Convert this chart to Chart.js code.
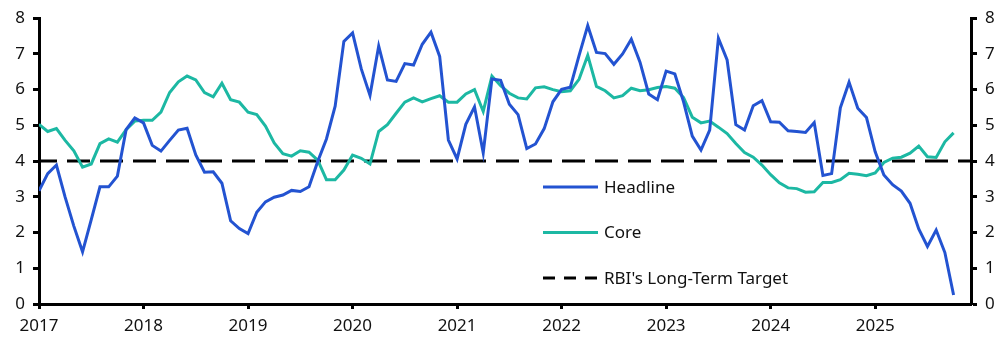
<!DOCTYPE html>
<html>
<head>
<meta charset="utf-8">
<script src="https://cdn.jsdelivr.net/npm/chart.js@4"></script>
<style>
  html, body { margin: 0; padding: 0; background: #fff; }
  #wrap { width: 1005px; height: 342px; position: relative; }
</style>
</head>
<body>
<div id="wrap"><canvas id="chart"></canvas></div>
<script>
// monthly, Jan 2017 .. Oct 2025 (% y/y)
const years = ['2017', '2018', '2019', '2020', '2021', '2022', '2023', '2024', '2025'];
const yTicks = [0, 1, 2, 3, 4, 5, 6, 7, 8];

const headline = [
  3.17, 3.65, 3.89, 2.99, 2.18, 1.46, 2.36, 3.28, 3.28, 3.58, 4.88, 5.21,
  5.07, 4.44, 4.28, 4.58, 4.87, 4.92, 4.17, 3.69, 3.70, 3.38, 2.33, 2.11,
  1.97, 2.57, 2.86, 2.99, 3.05, 3.18, 3.15, 3.28, 3.99, 4.62, 5.54, 7.35,
  7.59, 6.58, 5.84, 7.22, 6.27, 6.23, 6.73, 6.69, 7.27, 7.61, 6.93, 4.59,
  4.06, 5.03, 5.52, 4.23, 6.30, 6.26, 5.59, 5.30, 4.35, 4.48, 4.91, 5.66,
  6.01, 6.07, 6.95, 7.79, 7.04, 7.01, 6.71, 7.00, 7.41, 6.77, 5.88, 5.72,
  6.52, 6.44, 5.66, 4.70, 4.31, 4.87, 7.44, 6.83, 5.02, 4.87, 5.55, 5.69,
  5.10, 5.09, 4.85, 4.83, 4.80, 5.08, 3.60, 3.65, 5.49, 6.21, 5.48, 5.22,
  4.26, 3.61, 3.34, 3.16, 2.82, 2.10, 1.61, 2.07, 1.44, 0.25
];

const core = [
  5.03, 4.83, 4.91, 4.58, 4.29, 3.83, 3.92, 4.49, 4.62, 4.53, 4.88, 5.12,
  5.14, 5.14, 5.37, 5.92, 6.22, 6.38, 6.27, 5.92, 5.80, 6.18, 5.72, 5.65,
  5.37, 5.30, 4.98, 4.51, 4.21, 4.14, 4.29, 4.25, 4.03, 3.48, 3.48, 3.75,
  4.17, 4.08, 3.92, 4.83, 5.02, 5.34, 5.65, 5.77, 5.66, 5.75, 5.83, 5.65,
  5.65, 5.88, 6.00, 5.39, 6.38, 6.11, 5.90, 5.77, 5.74, 6.05, 6.08, 6.00,
  5.94, 5.97, 6.29, 6.96, 6.09, 5.97, 5.77, 5.83, 6.04, 5.97, 6.00, 6.06,
  6.09, 6.04, 5.78, 5.23, 5.07, 5.12, 4.95, 4.77, 4.49, 4.24, 4.11, 3.89,
  3.62, 3.39, 3.25, 3.23, 3.13, 3.14, 3.40, 3.40, 3.48, 3.66, 3.63, 3.59,
  3.67, 3.96, 4.08, 4.11, 4.22, 4.42, 4.12, 4.10, 4.54, 4.79
];

const target = 4;
const lastMonth = 107; // axis runs to Dec 2025

const BLUE = '#2353d1';
const TEAL = '#1cb8a3';
const FONT = '"Noto Sans", "Open Sans", sans-serif';

const toPoints = (arr) => arr.map((v, i) => ({ x: i, y: v }));

const legendItems = [
  { label: 'Headline', color: BLUE, dash: [] },
  { label: 'Core', color: TEAL, dash: [] },
  { label: "RBI's Long-Term Target", color: '#000', dash: [12, 9] },
];

const insideLegend = {
  id: 'insideLegend',
  afterDraw(chart) {
    const ctx = chart.ctx;
    ctx.save();
    ctx.font = '17px ' + FONT;
    ctx.textBaseline = 'middle';
    legendItems.forEach((it, i) => {
      const y = 187 + i * 45.5;
      ctx.beginPath();
      ctx.strokeStyle = it.color;
      ctx.lineWidth = 3;
      ctx.setLineDash(it.dash);
      ctx.moveTo(543, y);
      ctx.lineTo(598, y);
      ctx.stroke();
      ctx.setLineDash([]);
      ctx.fillStyle = '#111';
      ctx.fillText(it.label, 604, y + 1);
    });
    ctx.restore();
  }
};

const yAxis = (position, width) => ({
  type: 'linear',
  position: position,
  min: 0,
  max: 8,
  afterBuildTicks: (s) => { s.ticks = yTicks.map((v) => ({ value: v })); },
  afterFit: (s) => { s.width = width; },
  border: { display: true, color: '#000', width: 3 },
  grid: { display: true, drawOnChartArea: false, drawTicks: true, tickLength: 6, tickWidth: 3, tickColor: '#000' },
  ticks: { color: '#111', font: { family: FONT, size: 17 }, padding: 8 },
});

new Chart(document.getElementById('chart'), {
  type: 'line',
  data: {
    datasets: [
      {
        label: 'Headline',
        data: toPoints(headline),
        borderColor: BLUE,
        borderWidth: 3,
        pointRadius: 0,
        tension: 0,
        order: 1,
      },
      {
        label: 'Core',
        data: toPoints(core),
        borderColor: TEAL,
        borderWidth: 3,
        pointRadius: 0,
        tension: 0,
        order: 2,
      },
      {
        label: "RBI's Long-Term Target",
        data: [{ x: 0, y: target }, { x: lastMonth, y: target }],
        borderColor: '#000',
        borderWidth: 3,
        borderDash: [23, 10],
        borderDashOffset: 5,
        pointRadius: 0,
        order: 3,
      },
    ],
  },
  options: {
    responsive: true,
    maintainAspectRatio: false,
    animation: false,
    layout: { padding: { top: 15, left: 0, right: 0, bottom: 0 } },
    plugins: { legend: { display: false }, tooltip: { enabled: false } },
    scales: {
      x: {
        type: 'linear',
        min: 0,
        max: lastMonth,
        afterBuildTicks: (s) => { s.ticks = years.map((y, i) => ({ value: i * 12 })); },
        afterFit: (s) => { s.height = 38; },
        border: { display: true, color: '#000', width: 3 },
        grid: { display: true, drawOnChartArea: false, drawTicks: true, tickLength: 5, tickWidth: 3, tickColor: '#000' },
        ticks: {
          color: '#111',
          font: { family: FONT, size: 17 },
          padding: 7,
          maxRotation: 0,
          callback: (v) => years[v / 12],
        },
      },
      y: yAxis('left', 39),
      y2: yAxis('right', 34),
    },
  },
  plugins: [insideLegend],
});
</script>
</body>
</html>
